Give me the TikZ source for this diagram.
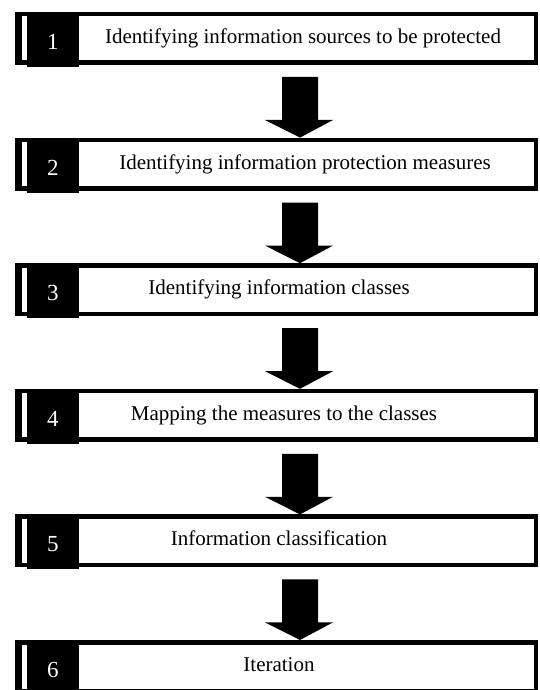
\documentclass[tikz,border=0pt]{standalone}
\usepackage{fontspec}
\setmainfont{Liberation Serif}
\usetikzlibrary{calc}
\tikzset{
  stepbox/.style={draw=black, line width=4.5pt, fill=white, rectangle,
    minimum width=518.5pt, minimum height=48.5pt, inner sep=0pt},
  numbox/.style={fill=black, rectangle, minimum width=51.5pt,
    minimum height=55pt, inner sep=0pt},
  numtext/.style={text=white, inner sep=0pt, font=\fontsize{23}{27}\selectfont},
  steptext/.style={font=\fontsize{21}{25}\selectfont, inner sep=0pt, anchor=center},
  bigarrow/.style={fill=black}
}
\begin{document}
\begin{tikzpicture}[x=1pt,y=1pt]
\useasboundingbox (0,0) rectangle (539,-690);
\foreach \k/\cx/\txt in {
  1/303/{Identifying information sources to be protected},
  2/305/{Identifying information protection measures},
  3/279/{Identifying information classes},
  4/284/{Mapping the measures to the classes},
  5/279/{Information classification},
  6/279/{Iteration}}{
  \pgfmathsetmacro{\top}{-12-125.6*(\k-1)}
  \node[stepbox] (b\k) at (276.5,\top-26.5) {};
  \fill[black] (15,\top) rectangle (21.5,\top-53);
  \node[numbox] (n\k) at (52.75,\top-27.5) {};
  \node[numtext] (d\k) at (52.75,\top-30) {\k};
  \node[steptext] (t\k) at (\cx,\top-26.5) {\strut\txt};
}
\foreach \a/\b in {1/2,2/3,3/4,4/5,5/6}{
  \fill[bigarrow] ($(b\a.south)+(5.5,-12)$) -- ($(b\a.south)+(41.5,-12)$)
    -- ($(b\a.south)+(41.5,-55)$) -- ($(b\a.south)+(56.5,-55)$)
    -- ($(b\b.north)+(23.5,0)$) -- ($(b\a.south)+(-11.5,-55)$)
    -- ($(b\a.south)+(5.5,-55)$) -- cycle;
}
\end{tikzpicture}
\end{document}
